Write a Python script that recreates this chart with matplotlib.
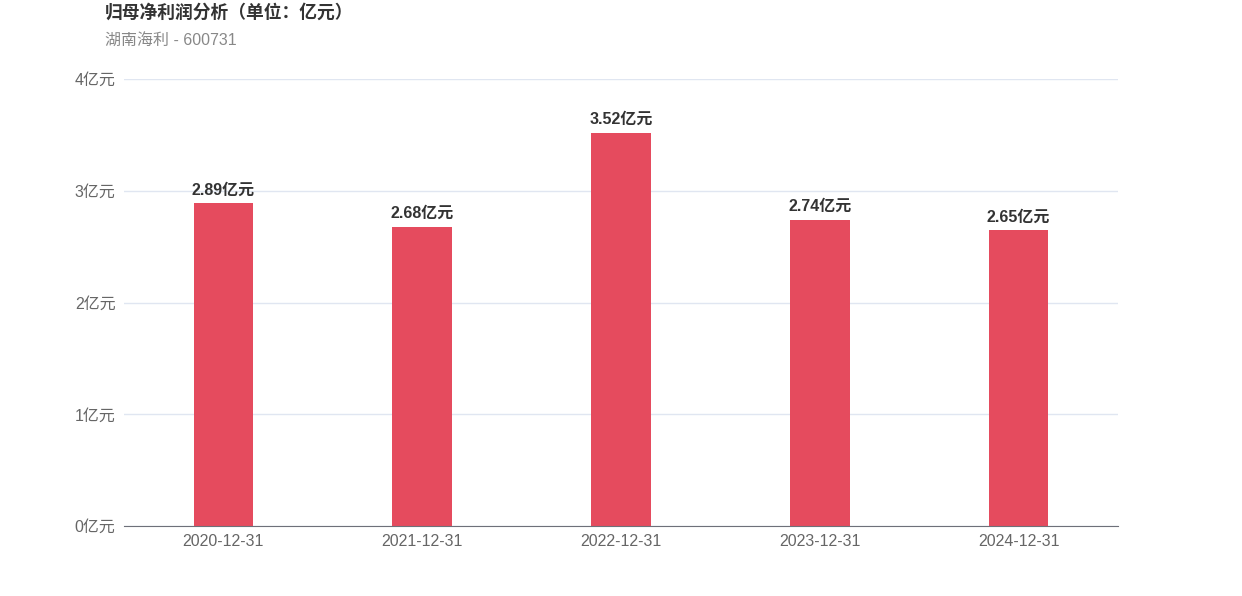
import matplotlib
matplotlib.use('Agg')
import matplotlib.pyplot as plt
import numpy as np

plt.rcParams['font.family'] = ['Liberation Sans', 'Noto Sans CJK SC', 'DejaVu Sans']

dates = ['2020-12-31', '2021-12-31', '2022-12-31', '2023-12-31', '2024-12-31']
profits = [2.89, 2.68, 3.52, 2.74, 2.65]
yticks = [0, 1, 2, 3, 4]

fig = plt.figure(figsize=(12.42, 5.96), dpi=100)
ax = fig.add_axes([124/1242, 70/596, 994/1242, 447/596])

x = np.arange(len(dates))
ax.bar(x, profits, width=0.3, color='#e54b5e', zorder=3)
for xi, v in zip(x, profits):
    ax.text(xi, v + 0.05, f'{v:.2f}亿元', ha='center', va='bottom',
            fontsize=11.5, fontweight='bold', color='#333333')

ax.set_xlim(-0.5, len(dates) - 0.5)
ax.set_ylim(0, 4)
ax.set_xticks(x)
ax.set_xticklabels(dates, fontsize=11.5, color='#666666')
ax.set_yticks(yticks)
ax.set_yticklabels([f'{t}亿元' for t in yticks], fontsize=11.5, color='#666666')
ax.tick_params(axis='x', length=0, pad=6)
ax.tick_params(axis='y', length=0, pad=6)
ax.grid(axis='y', color='#e0e6f1', linewidth=1, zorder=0)
for s in ['top', 'right', 'left']:
    ax.spines[s].set_visible(False)
ax.spines['bottom'].set_color('#6e7079')
ax.spines['bottom'].set_zorder(4)

fig.text(105/1242, 1 - 13/596, '归母净利润分析（单位：亿元）', fontsize=12.8,
         fontweight='bold', color='#333333', va='center', ha='left')
fig.text(105/1242, 1 - 40/596, '湖南海利 - 600731', fontsize=11.5,
         color='#888888', va='center', ha='left')

fig.savefig('out.png', dpi=100)
